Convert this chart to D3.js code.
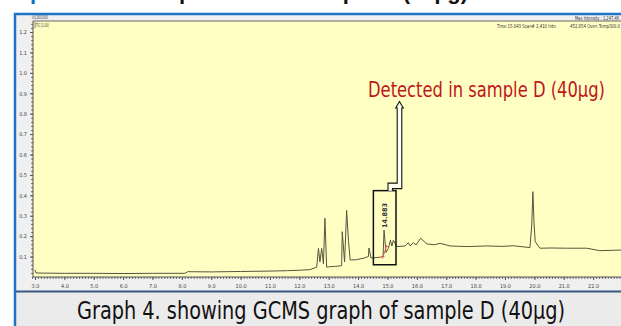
<!DOCTYPE html>
<html>
<head>
<meta charset="utf-8">
<script src="https://cdn.jsdelivr.net/npm/d3@7"></script>
<style>
  body { margin: 0; background: #fff; }
  svg { display: block; }
  .tiny text { font-family: "Liberation Sans Narrow", "DejaVu Sans Condensed", sans-serif; }
</style>
</head>
<body>
<script>
// retention time (min) and TIC intensity (x1,000,000)
const rtMin = [3.0, 3.03, 3.3, 4.0, 5.0, 6.0, 7.0, 8.1, 8.2, 9.0, 10.0, 11.0, 11.6, 12.0, 12.36, 12.59,
  12.65, 12.70, 12.76, 12.82, 12.87, 12.93, 13.0, 13.2, 13.44, 13.46, 13.54, 13.61, 13.67, 13.73,
  13.95, 14.21, 14.35, 14.37, 14.44, 14.75, 14.85, 14.883, 14.95, 15.03, 15.10, 15.15, 15.20, 15.32,
  15.6, 15.71, 15.77, 15.88, 15.97, 16.13, 16.34, 16.6, 16.79, 17.13, 17.7, 18.38, 18.9, 19.29, 19.85,
  19.91, 19.95, 19.99, 20.03, 20.19, 20.6, 21.1, 21.78, 22.23, 22.95];
const intensity = [0.035, 0.02, 0.019, 0.018, 0.018, 0.017, 0.018, 0.018, 0.026, 0.025, 0.027, 0.029, 0.031, 0.033, 0.036, 0.048,
  0.14, 0.074, 0.14, 0.064, 0.288, 0.048, 0.05, 0.052, 0.055, 0.222, 0.074, 0.326, 0.18, 0.083,
  0.085, 0.093, 0.1, 0.142, 0.093, 0.097, 0.1, 0.23, 0.12, 0.14, 0.18, 0.152, 0.18, 0.149,
  0.152, 0.168, 0.152, 0.168, 0.157, 0.19, 0.162, 0.158, 0.165, 0.152, 0.149, 0.152, 0.15, 0.153, 0.144,
  0.25, 0.418, 0.26, 0.173, 0.141, 0.142, 0.141, 0.141, 0.129, 0.132];

const xTicks = [3, 4, 5, 6, 7, 8, 9, 10, 11, 12, 13, 14, 15, 16, 17, 18, 19, 20, 21, 22];
const yTicks = [0.1, 0.2, 0.3, 0.4, 0.5, 0.6, 0.7, 0.8, 0.9, 1.0, 1.1, 1.2];

const peakRt = [14.883];
const peakInt = [0.23];
const peakLabel = ['14.883'];
const boxRt = [14.52, 15.29];
const boxInt = [0.06, 0.423];

const W = 621, H = 326;
const svg = d3.select('body').append('svg').attr('width', W).attr('height', H);

// slide background + title (only its lowest part shows in the crop)
svg.append('rect').attr('width', W).attr('height', H).attr('fill', '#fff');
const title = svg.append('text').attr('x', -8).attr('y', -1)
  .style('font-family', '"Liberation Sans", sans-serif').style('font-weight', 'bold').style('font-size', '22px');
title.append('tspan').attr('fill', '#1a6fc4').text('Graph 4 : ');
title.append('tspan').attr('fill', '#111').text('GCMS spectrum of sample D (40µg)');

svg.append('rect').attr('x', 16).attr('y', 14).attr('width', W - 16).attr('height', H - 14).attr('fill', '#f0f0f0');
svg.append('rect').attr('x', 16).attr('y', 292).attr('width', W - 16).attr('height', H - 292).attr('fill', '#ebebeb');
svg.append('line').attr('x1', 16).attr('x2', W).attr('y1', 291.5).attr('y2', 291.5)
  .attr('stroke', '#3b5680').attr('stroke-width', 2);
svg.append('path').attr('d', `M15,${H} V14 H${W}`).attr('fill', 'none')
  .attr('stroke', '#1f74c8').attr('stroke-width', 2.5);

// plot area
const plotTop = 21, plotBottom = 277, plotLeft = 33;
svg.append('rect').attr('x', plotLeft).attr('y', plotTop).attr('width', W - plotLeft)
  .attr('height', plotBottom - plotTop).attr('fill', '#ffffc4');
svg.append('line').attr('x1', plotLeft).attr('x2', W).attr('y1', plotTop).attr('y2', plotTop)
  .attr('stroke', '#666').attr('stroke-width', 1);

const x = d3.scaleLinear().domain([3, 22.95]).range([35, W]);
const y = d3.scaleLinear().domain([0, 1.2]).range([plotBottom, 32]);

// axes
const gx = svg.append('g').attr('class', 'tiny').attr('transform', `translate(0,${plotBottom})`);
gx.call(d3.axisBottom(x).tickValues(d3.range(29, 230).map(d => d / 10)).tickSize(1.8).tickSizeOuter(0).tickFormat(''));
gx.append('g').call(d3.axisBottom(x).tickValues(xTicks).tickSize(3).tickSizeOuter(0).tickFormat(d3.format('.1f')))
  .call(g => g.select('.domain').remove());
gx.selectAll('text').style('font-size', '5.5px').attr('fill', '#444').attr('dy', '0.9em');
gx.selectAll('line').attr('stroke', '#555');
gx.select('.domain').attr('d', `M${plotLeft},0H${W}`).attr('stroke', '#555');

const gy = svg.append('g').attr('class', 'tiny').attr('transform', `translate(${plotLeft},0)`);
gy.call(d3.axisLeft(y).tickValues(d3.range(1, 63).map(d => d * 0.02)).tickSize(1.8).tickSizeOuter(0).tickFormat(''));
gy.append('g').call(d3.axisLeft(y).tickValues(yTicks).tickSize(3).tickSizeOuter(0).tickFormat(d3.format('.1f')))
  .call(g => g.select('.domain').remove());
gy.selectAll('text').style('font-size', '5.5px').attr('fill', '#444');
gy.selectAll('line').attr('stroke', '#555');
gy.select('.domain').attr('d', `M0,${plotTop}V${plotBottom}`).attr('stroke', '#555');

// header texts
const small = (tx, ty, s, len) => svg.append('text').attr('x', tx).attr('y', ty)
  .attr('textLength', len).attr('lengthAdjust', 'spacingAndGlyphs')
  .style('font-family', '"Liberation Sans Narrow", "DejaVu Sans Condensed", sans-serif')
  .style('font-size', '5.5px').attr('fill', '#333').text(s);
small(32, 19, '(x1,000,000)', 16);
small(36, 27, 'TIC (1.00)', 13);
svg.append('line').attr('x1', 35).attr('x2', 35).attr('y1', 22).attr('y2', 28).attr('stroke', '#333').attr('stroke-width', 0.6);
small(575, 19.5, 'Max Intensity : 1,247,46', 44);
small(497, 28, 'Time  15.043   Scan# 2,410   Intn.', 60);
small(570, 28, '452,854   Oven Temp300.0', 50);

// chromatogram trace
const line = d3.line().x((d, i) => x(rtMin[i])).y(d => y(d));
svg.append('path').datum(intensity).attr('d', line).attr('fill', 'none')
  .attr('stroke', '#55553f').attr('stroke-width', 1).attr('stroke-linejoin', 'round');

// peak integration marker and label
const px = x(peakRt[0]);
svg.append('path')
  .attr('d', `M${px - 1.5},${y(0.09)} L${px + 2.5},${y(0.155)} M${px - 2.5},${y(0.1)} h3 M${px + 1},${y(0.15)} h3`)
  .attr('stroke', '#e0504a').attr('stroke-width', 0.9).attr('fill', 'none');
svg.selectAll('.plabel').data(peakLabel).join('text').attr('class', 'plabel')
  .attr('transform', (d, i) => `translate(${x(peakRt[i]) + 2.5},${y(peakInt[i]) - 2}) rotate(-90)`)
  .style('font-family', '"DejaVu Sans", sans-serif').style('font-size', '6.5px').style('font-weight', 'bold')
  .attr('fill', '#333').text(d => d);

// highlight box and arrow
const bx0 = x(boxRt[0]), bx1 = x(boxRt[1]), by0 = y(boxInt[1]), by1 = y(boxInt[0]);
svg.append('rect').attr('x', bx0).attr('y', by0).attr('width', bx1 - bx0).attr('height', by1 - by0)
  .attr('fill', 'none').attr('stroke', '#111').attr('stroke-width', 1.5);
const ax = bx1 + 3.5, tip = 101.5;
svg.append('path')
  .attr('d', `M${bx1 - 8},${by0} V${by0 - 7.5} H${ax - 2.3} V${tip + 6.5} H${ax - 3.8} L${ax},${tip} L${ax + 3.8},${tip + 6.5} H${ax + 2.3} V${by0 - 2} H${bx1 - 3.5} V${by0}`)
  .attr('fill', '#fffff0').attr('stroke', '#111').attr('stroke-width', 1.1).attr('stroke-linejoin', 'miter');

// annotation + caption
svg.append('text').attr('x', 368).attr('y', 97).attr('textLength', 237).attr('lengthAdjust', 'spacingAndGlyphs')
  .style('font-family', '"Liberation Sans Narrow", "DejaVu Sans Condensed", sans-serif').style('font-size', '22px')
  .attr('fill', '#c0161b').text('Detected in sample D (40µg)');
svg.append('text').attr('x', 77).attr('y', 319).attr('textLength', 488).attr('lengthAdjust', 'spacingAndGlyphs')
  .style('font-family', '"Liberation Sans Narrow", "DejaVu Sans Condensed", sans-serif').style('font-size', '25px')
  .attr('fill', '#111').text('Graph 4. showing GCMS graph of sample D (40µg)');
</script>
</body>
</html>
